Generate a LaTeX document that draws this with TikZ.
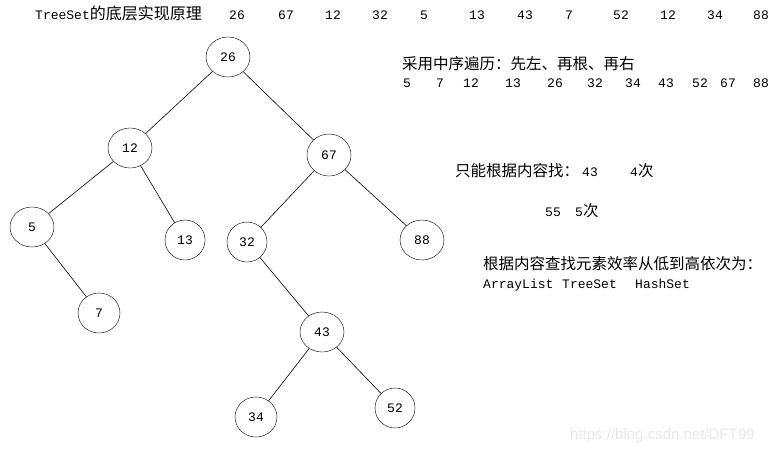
\documentclass[tikz,border=0pt]{standalone}
\usepackage{fontspec}
\setmainfont{Liberation Mono}
\newfontfamily\cjkfam{Noto Sans CJK SC}
\newcommand\cjk{\cjkfam\fontsize{15.5}{15.5}\selectfont}
\newfontfamily\wmfont{Liberation Sans}
\usetikzlibrary{shapes.geometric}
\begin{document}
\begin{tikzpicture}[x=1pt,y=-1pt,
  tnode/.style={draw,ellipse,minimum width=44pt,minimum height=40pt,inner sep=0pt,font=\fontsize{13}{13}\selectfont},
  lbl/.style={anchor=base west,inner sep=0pt,font=\fontsize{13}{13}\selectfont},
  edge/.style={draw,line width=0.6pt}]
\useasboundingbox (0,0) rectangle (774,450);
\fill[white] (0,0) rectangle (774,450);
% tree nodes
\node[tnode] (n26) at (228,57) {26};
\node[tnode] (n12) at (130,148) {12};
\node[tnode,minimum height=42pt] (n67) at (329,155) {67};
\node[tnode] (n5) at (32,227) {5};
\node[tnode,minimum width=40pt] (n13) at (185,240) {13};
\node[tnode,minimum width=40pt] (n32) at (247,242) {32};
\node[tnode] (n88) at (422,240) {88};
\node[tnode,minimum width=42pt] (n7) at (99,313) {7};
\node[tnode] (n43) at (322,332) {43};
\node[tnode,minimum width=42pt] (n34) at (256,417) {34};
\node[tnode,minimum width=40pt] (n52) at (395,408) {52};
% edges
\draw[edge] (n26) -- (n12);
\draw[edge] (n26) -- (n67);
\draw[edge] (n12) -- (n5);
\draw[edge] (n12) -- (n13);
\draw[edge] (n67) -- (n32);
\draw[edge] (n67) -- (n88);
\draw[edge] (n5) -- (n7);
\draw[edge] (n32) -- (n43);
\draw[edge] (n43) -- (n34);
\draw[edge] (n43) -- (n52);
% top line
\node[lbl] (t0) at (35,19) {TreeSet{\cjk\fontsize{16}{16}\selectfont 的底层实现原理}};
\node[lbl] (t1) at (229,19) {26};
\node[lbl] (t2) at (278,19) {67};
\node[lbl] (t3) at (325,19) {12};
\node[lbl] (t4) at (372,19) {32};
\node[lbl] (t5) at (420,19) {5};
\node[lbl] (t6) at (469,19) {13};
\node[lbl] (t7) at (517,19) {43};
\node[lbl] (t8) at (565,19) {7};
\node[lbl] (t9) at (613,19) {52};
\node[lbl] (t10) at (660,19) {12};
\node[lbl] (t11) at (707,19) {34};
\node[lbl] (t12) at (753,19) {88};
% in-order
\node[lbl] (s0) at (402,69) {\cjk 采用中序遍历：先左、再根、再右};
\node[lbl] (s1) at (403,87) {5};
\node[lbl] (s2) at (436,87) {7};
\node[lbl] (s3) at (463,87) {12};
\node[lbl] (s4) at (505,87) {13};
\node[lbl] (s5) at (547,87) {26};
\node[lbl] (s6) at (587,87) {32};
\node[lbl] (s7) at (625,87) {34};
\node[lbl] (s8) at (658,87) {43};
\node[lbl] (s9) at (692,87) {52};
\node[lbl] (s10) at (720,87) {67};
\node[lbl] (s11) at (753,87) {88};
% search
\node[lbl] (f0) at (455,176) {\cjk 只能根据内容找：};
\node[lbl] (f1) at (582,176) {43};
\node[lbl] (f2) at (630,176) {4{\cjk 次}};
\node[lbl] (f3) at (545,216) {55};
\node[lbl] (f4) at (575,216) {5{\cjk 次}};
% efficiency
\node[lbl] (e0) at (483,269) {\cjk 根据内容查找元素效率从低到高依次为：};
\node[lbl] (e1) at (483,288) {ArrayList};
\node[lbl] (e2) at (562,288) {TreeSet};
\node[lbl] (e3) at (635,288) {HashSet};
% watermark
\node[anchor=base west,inner sep=0pt,font=\wmfont\fontsize{15}{15}\selectfont,text=black!9] (wm) at (570,439) {https://blog.csdn.net/DFT99};
\end{tikzpicture}
\end{document}
